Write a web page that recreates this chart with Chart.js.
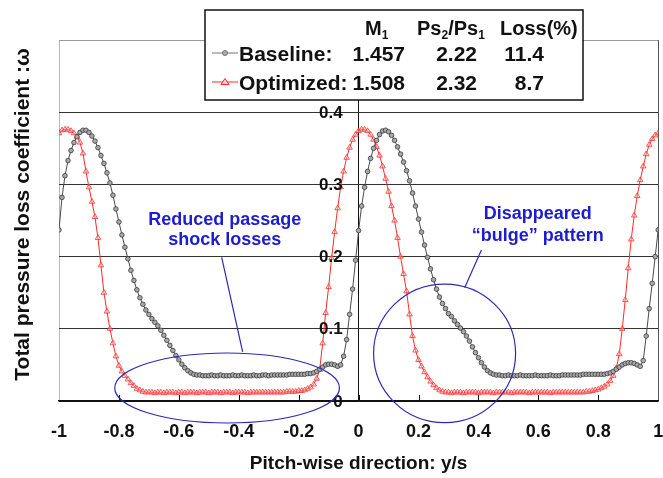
<!DOCTYPE html>
<html>
<head>
<meta charset="utf-8">
<script src="https://cdn.jsdelivr.net/npm/chart.js@4.4.1/dist/chart.umd.min.js"></script>
<style>
  html, body { margin: 0; padding: 0; background: #fff; }
  #wrap { width: 663px; height: 478px; }
</style>
</head>
<body>
<div id="wrap"><canvas id="chart" width="663" height="478"></canvas></div>
<script>
// Posiciones en el paso (y/s), de -1 a 1 cada 0.01
const pitch = Array.from({length: 201}, (_, i) => Math.round((-1 + i * 0.01) * 100) / 100);

// Coeficiente de pérdida (201 valores cada uno)
const baseline = [
  0.237, 0.282, 0.312, 0.333, 0.347, 0.358, 0.366, 0.372, 0.375, 0.375,
  0.372, 0.367, 0.360, 0.351, 0.340, 0.329, 0.316, 0.302, 0.285, 0.266,
  0.248, 0.230, 0.213, 0.197, 0.181, 0.167, 0.154, 0.143, 0.134, 0.126,
  0.120, 0.114, 0.109, 0.104, 0.098, 0.091, 0.084, 0.077, 0.070, 0.063,
  0.057, 0.051, 0.046, 0.042, 0.039, 0.037, 0.036, 0.036, 0.035, 0.035,
  0.035, 0.036, 0.035, 0.035, 0.036, 0.035, 0.035, 0.035, 0.036, 0.035,
  0.035, 0.036, 0.035, 0.035, 0.035, 0.036, 0.035, 0.035, 0.036, 0.036,
  0.035, 0.036, 0.036, 0.036, 0.036, 0.036, 0.036, 0.037, 0.037, 0.037,
  0.037, 0.037, 0.037, 0.038, 0.038, 0.039, 0.041, 0.044, 0.047, 0.050,
  0.051, 0.051, 0.050, 0.048, 0.050, 0.062, 0.085, 0.120, 0.155, 0.195,
  0.236, 0.270, 0.296, 0.318, 0.336, 0.350, 0.361, 0.369, 0.374, 0.375,
  0.373, 0.368, 0.361, 0.352, 0.342, 0.331, 0.319, 0.305, 0.288, 0.270,
  0.252, 0.234, 0.216, 0.199, 0.183, 0.168, 0.155, 0.144, 0.135, 0.128,
  0.121, 0.117, 0.111, 0.106, 0.101, 0.096, 0.090, 0.083, 0.075, 0.067,
  0.060, 0.053, 0.047, 0.042, 0.039, 0.037, 0.036, 0.036, 0.035, 0.035,
  0.036, 0.035, 0.035, 0.035, 0.036, 0.035, 0.035, 0.035, 0.035, 0.036,
  0.035, 0.035, 0.035, 0.035, 0.036, 0.035, 0.035, 0.035, 0.036, 0.036,
  0.036, 0.036, 0.036, 0.036, 0.036, 0.037, 0.037, 0.037, 0.037, 0.037,
  0.037, 0.037, 0.037, 0.038, 0.039, 0.041, 0.044, 0.047, 0.050, 0.052,
  0.053, 0.053, 0.052, 0.050, 0.048, 0.056, 0.090, 0.128, 0.163, 0.200,
  0.237
];
const optimized = [
  0.371, 0.375, 0.376, 0.376, 0.374, 0.371, 0.366, 0.358, 0.343, 0.318,
  0.296, 0.276, 0.255, 0.226, 0.188, 0.150, 0.124, 0.100, 0.080, 0.062,
  0.049, 0.041, 0.035, 0.030, 0.025, 0.021, 0.017, 0.015, 0.013, 0.012,
  0.012, 0.012, 0.011, 0.012, 0.012, 0.011, 0.012, 0.012, 0.012, 0.011,
  0.012, 0.012, 0.011, 0.012, 0.012, 0.012, 0.011, 0.012, 0.012, 0.012,
  0.011, 0.012, 0.012, 0.012, 0.011, 0.012, 0.012, 0.012, 0.011, 0.012,
  0.012, 0.012, 0.012, 0.011, 0.012, 0.012, 0.012, 0.012, 0.012, 0.012,
  0.012, 0.012, 0.012, 0.012, 0.012, 0.012, 0.013, 0.013, 0.013, 0.013,
  0.014, 0.014, 0.015, 0.017, 0.019, 0.023, 0.031, 0.043, 0.080, 0.122,
  0.158, 0.198, 0.234, 0.267, 0.296, 0.318, 0.337, 0.351, 0.362, 0.369,
  0.374, 0.376, 0.376, 0.374, 0.369, 0.362, 0.352, 0.340, 0.325, 0.308,
  0.290, 0.270, 0.250, 0.226, 0.200, 0.176, 0.152, 0.120, 0.090, 0.070,
  0.057, 0.048, 0.040, 0.033, 0.027, 0.022, 0.018, 0.015, 0.013, 0.012,
  0.012, 0.011, 0.012, 0.012, 0.012, 0.011, 0.012, 0.012, 0.012, 0.012,
  0.011, 0.012, 0.012, 0.012, 0.012, 0.011, 0.012, 0.012, 0.012, 0.012,
  0.012, 0.011, 0.012, 0.012, 0.012, 0.012, 0.012, 0.011, 0.012, 0.012,
  0.012, 0.012, 0.012, 0.012, 0.011, 0.012, 0.012, 0.012, 0.012, 0.012,
  0.012, 0.012, 0.012, 0.012, 0.012, 0.012, 0.013, 0.013, 0.014, 0.015,
  0.016, 0.018, 0.020, 0.023, 0.028, 0.035, 0.045, 0.065, 0.100, 0.140,
  0.184, 0.224, 0.257, 0.284, 0.306, 0.325, 0.342, 0.355, 0.363, 0.368,
  0.371
];

// Tabla de la leyenda
const legendHeader = [
  { x: 365, parts: [['M', 0], ['1', 1]] },
  { x: 417, parts: [['Ps', 0], ['2', 1], ['/Ps', 0], ['1', 1]] },
  { x: 500, parts: [['Loss(%)', 0]] }
];
const seriesNames = ['Baseline:', 'Optimized:'];
const baselineStats = ['1.457', '2.22', '11.4'];
const optimizedStats = ['1.508', '2.32', '8.7'];

// Anotaciones en coordenadas de datos
const notes = [
  { lines: ['Reduced passage', 'shock losses'], tx: -0.447, ty: [0.251, 0.223],
    from: [-0.457, 0.199], to: [-0.387, 0.068], cx: -0.439, cy: 0.018, rx: 0.375, ry: 0.0485 },
  { lines: ['Disappeared', '\u201Cbulge\u201D pattern'], tx: 0.598, ty: [0.259, 0.229],
    from: [0.410, 0.209], to: [0.354, 0.157], cx: 0.287, cy: 0.066, rx: 0.237, ry: 0.096 }
];

const FONT = 'Arial, "Liberation Sans", sans-serif';
const BLACK = '#111';
const GRAY = '#4a4a4a';
const RED = '#ff2b2b';
const BLUE = '#1c1cd0';

const near = (a, b) => Math.abs(a - b) < 1e-9;
const fmt = v => String(Math.round(v * 10) / 10);

// Dibuja la tabla de leyenda
function drawLegend(ctx) {
  ctx.save();
  ctx.fillStyle = '#fff';
  ctx.fillRect(205, 10, 378, 90);
  ctx.strokeStyle = BLACK;
  ctx.lineWidth = 1.5;
  ctx.strokeRect(205, 10, 378, 90);

  ctx.fillStyle = BLACK;
  ctx.textBaseline = 'alphabetic';
  ctx.textAlign = 'left';
  legendHeader.forEach(h => {
    let px = h.x;
    h.parts.forEach(([t, sub]) => {
      ctx.font = sub ? `bold 12px ${FONT}` : `bold 20px ${FONT}`;
      ctx.fillText(t, px, sub ? 39 : 35);
      px += ctx.measureText(t).width;
    });
  });

  const rows = [
    { y: 53, color: '#777', stats: baselineStats, marker: 'circle' },
    { y: 82, color: RED, stats: optimizedStats, marker: 'triangle' }
  ];
  rows.forEach((r, k) => {
    ctx.strokeStyle = r.color;
    ctx.lineWidth = 1;
    ctx.beginPath();
    ctx.moveTo(212, r.y);
    ctx.lineTo(238, r.y);
    ctx.stroke();
    ctx.beginPath();
    if (r.marker === 'circle') {
      ctx.fillStyle = '#aaa';
      ctx.arc(225, r.y, 2.5, 0, Math.PI * 2);
    } else {
      ctx.fillStyle = '#ffd0d0';
      ctx.moveTo(225, r.y - 3.5);
      ctx.lineTo(229, r.y + 2.5);
      ctx.lineTo(221, r.y + 2.5);
      ctx.closePath();
    }
    ctx.fill();
    ctx.stroke();

    ctx.fillStyle = BLACK;
    ctx.font = `bold 21px ${FONT}`;
    ctx.textAlign = 'left';
    ctx.fillText(seriesNames[k], 239, r.y + 8);
    ctx.textAlign = 'right';
    [405, 477, 544].forEach((px, j) => ctx.fillText(r.stats[j], px, r.y + 8));
  });
  ctx.restore();
}

// Marcas, etiquetas del eje Y y anotaciones
const extras = {
  id: 'extras',
  afterDatasetsDraw(chart) {
    const {ctx, chartArea, scales: {x, y}} = chart;
    ctx.save();

    ctx.strokeStyle = BLACK;
    ctx.lineWidth = 1;
    x.ticks.forEach(t => {
      if (near(t.value, -1) || near(t.value, 1)) return;
      const px = Math.round(x.getPixelForValue(t.value)) + 0.5;
      ctx.beginPath();
      ctx.moveTo(px, chartArea.bottom);
      ctx.lineTo(px, chartArea.bottom - 6);
      ctx.stroke();
    });

    const x0 = x.getPixelForValue(0);
    ctx.fillStyle = BLACK;
    ctx.font = `bold 17px ${FONT}`;
    ctx.textAlign = 'right';
    ctx.textBaseline = 'middle';
    y.ticks.forEach(t => {
      if (t.value > 0.45) return;
      ctx.fillText(fmt(t.value), x0 - 16, y.getPixelForValue(t.value) + 1);
    });

    notes.forEach(n => {
      ctx.fillStyle = BLUE;
      ctx.font = `bold 18px ${FONT}`;
      ctx.textAlign = 'center';
      n.lines.forEach((t, k) => ctx.fillText(t, x.getPixelForValue(n.tx), y.getPixelForValue(n.ty[k])));
      ctx.strokeStyle = '#2b2bb8';
      ctx.lineWidth = 1.2;
      ctx.beginPath();
      ctx.moveTo(x.getPixelForValue(n.from[0]), y.getPixelForValue(n.from[1]));
      ctx.lineTo(x.getPixelForValue(n.to[0]), y.getPixelForValue(n.to[1]));
      ctx.stroke();
      const cx = x.getPixelForValue(n.cx);
      const cy = y.getPixelForValue(n.cy);
      const rx = Math.abs(x.getPixelForValue(n.cx + n.rx) - cx);
      const ry = Math.abs(y.getPixelForValue(n.cy + n.ry) - cy);
      ctx.beginPath();
      ctx.ellipse(cx, cy, rx, ry, 0, 0, Math.PI * 2);
      ctx.stroke();
    });
    ctx.restore();
  },
  afterDraw(chart) {
    const {ctx, chartArea} = chart;
    drawLegend(ctx);
    ctx.save();
    ctx.fillStyle = BLACK;
    ctx.font = `bold 21px ${FONT}`;
    ctx.textAlign = 'center';
    ctx.textBaseline = 'alphabetic';
    ctx.translate(29, (chartArea.top + chartArea.bottom) / 2 - 6);
    ctx.rotate(-Math.PI / 2);
    ctx.fillText('Total pressure loss coefficient :\u03C9', 0, 0);
    ctx.restore();
  }
};

const ctx = document.getElementById('chart');
new Chart(ctx, {
  type: 'line',
  data: {
    datasets: [{
      label: 'Baseline',
      data: pitch.map((p, i) => ({x: p, y: baseline[i]})),
      borderColor: GRAY,
      borderWidth: 1,
      pointStyle: 'circle',
      pointRadius: 2.3,
      pointBackgroundColor: '#a8a8a8',
      pointBorderColor: '#3a3a3a',
      pointBorderWidth: 0.8
    }, {
      label: 'Optimized',
      data: pitch.map((p, i) => ({x: p, y: optimized[i]})),
      borderColor: RED,
      borderWidth: 1,
      pointStyle: 'triangle',
      pointRadius: 3.2,
      pointBackgroundColor: 'rgba(255,200,200,0.4)',
      pointBorderColor: '#ff3535',
      pointBorderWidth: 0.8
    }]
  },
  options: {
    responsive: false,
    animation: false,
    devicePixelRatio: 1,
    layout: { padding: { left: 59, right: 4, top: 40, bottom: 0 } },
    plugins: { legend: { display: false }, tooltip: { enabled: false } },
    scales: {
      x: {
        type: 'linear',
        min: -1,
        max: 1,
        afterFit(s) { s.height = 77; s.paddingLeft = 0; s.paddingRight = 0; },
        ticks: {
          stepSize: 0.2,
          autoSkip: false,
          maxRotation: 0,
          padding: 20,
          color: BLACK,
          font: { family: FONT, size: 18, weight: 'bold' },
          callback: v => fmt(v)
        },
        grid: {
          drawTicks: false,
          lineWidth: 1,
          color: c => {
            const v = c.tick ? c.tick.value : NaN;
            if (near(v, -1)) return '#b8b8b8';
            if (near(v, 0)) return BLACK;
            if (near(v, 1)) return '#555';
            return 'rgba(0,0,0,0)';
          }
        },
        border: { display: true, color: BLACK, width: 1.5 },
        title: {
          display: true,
          text: 'Pitch-wise direction: y/s',
          color: BLACK,
          font: { family: FONT, size: 19, weight: 'bold' },
          padding: { top: 0, bottom: 3 }
        }
      },
      y: {
        min: 0,
        max: 0.5,
        afterFit(s) { s.width = 0; },
        ticks: { display: false, stepSize: 0.1 },
        grid: {
          drawTicks: false,
          lineWidth: 1,
          color: c => {
            const v = c.tick ? c.tick.value : NaN;
            if (near(v, 0)) return BLACK;
            if (near(v, 0.5)) return '#9a9a9a';
            return '#333';
          }
        },
        border: { display: false }
      }
    }
  },
  plugins: [extras]
});
</script>
</body>
</html>
